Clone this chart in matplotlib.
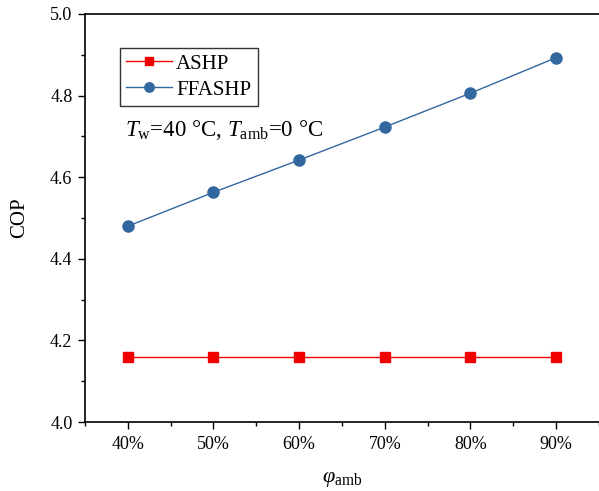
import matplotlib
matplotlib.use("Agg")
import matplotlib.pyplot as plt
from matplotlib.ticker import MultipleLocator, FuncFormatter

# ---- data ----
phi_amb = [40, 50, 60, 70, 80, 90]
cop_ashp = [4.16, 4.16, 4.16, 4.16, 4.16, 4.16]
cop_ffashp = [4.480, 4.563, 4.642, 4.723, 4.806, 4.893]

plt.rcParams['font.family'] = ['Liberation Serif', 'DejaVu Serif']
plt.rcParams['mathtext.fontset'] = 'custom'
plt.rcParams['mathtext.rm'] = 'Liberation Serif'
plt.rcParams['mathtext.it'] = 'Liberation Serif:italic'

fig = plt.figure(figsize=(5.99, 4.91), dpi=100)
ax = fig.add_axes([0.1419, 0.1405, 0.8581, 0.831])

ax.plot(phi_amb, cop_ashp, '-s', color='#f00000', lw=1.0, ms=7, label='ASHP')
ax.plot(phi_amb, cop_ffashp, '-o', color='#33679f', lw=1.0, ms=8, label='FFASHP')

ax.set_xlim(35, 95)
ax.set_ylim(4.0, 5.0)
ax.xaxis.set_major_locator(MultipleLocator(10))
ax.xaxis.set_minor_locator(MultipleLocator(5))
ax.yaxis.set_major_locator(MultipleLocator(0.2))
ax.yaxis.set_minor_locator(MultipleLocator(0.1))
ax.xaxis.set_major_formatter(FuncFormatter(lambda v, p: '%d%%' % v))
ax.yaxis.set_major_formatter(FuncFormatter(lambda v, p: '%.1f' % v))

ax.tick_params(which='both', direction='out', labelsize=13)
ax.tick_params(which='major', length=5, width=1)
ax.tick_params(which='minor', length=3, width=1)
ax.tick_params(axis='x', pad=5)
ax.tick_params(axis='y', pad=4)
ax.spines['right'].set_visible(False)
for s in ['left', 'bottom', 'top']:
    ax.spines[s].set_linewidth(1.2)

ax.set_ylabel('COP', fontsize=15, labelpad=15)
ax.set_xlabel(r'$\varphi_{\mathrm{amb}}$', fontsize=16, labelpad=12)

ax.text(0.077, 0.70, r'$T_{\mathrm{w}}$=40 °C, $T_{\mathrm{amb}}$=0 °C',
        transform=ax.transAxes, fontsize=16.5)

leg = ax.legend(loc='upper left', bbox_to_anchor=(0.068, 0.917), fontsize=15,
                fancybox=False, edgecolor='#333333', framealpha=1,
                handlelength=2.2, borderpad=0.3, labelspacing=0.3,
                handletextpad=0.2, borderaxespad=0.0, markerscale=0.85)
leg.get_frame().set_linewidth(1.0)

fig.savefig('out.png', dpi=100)
